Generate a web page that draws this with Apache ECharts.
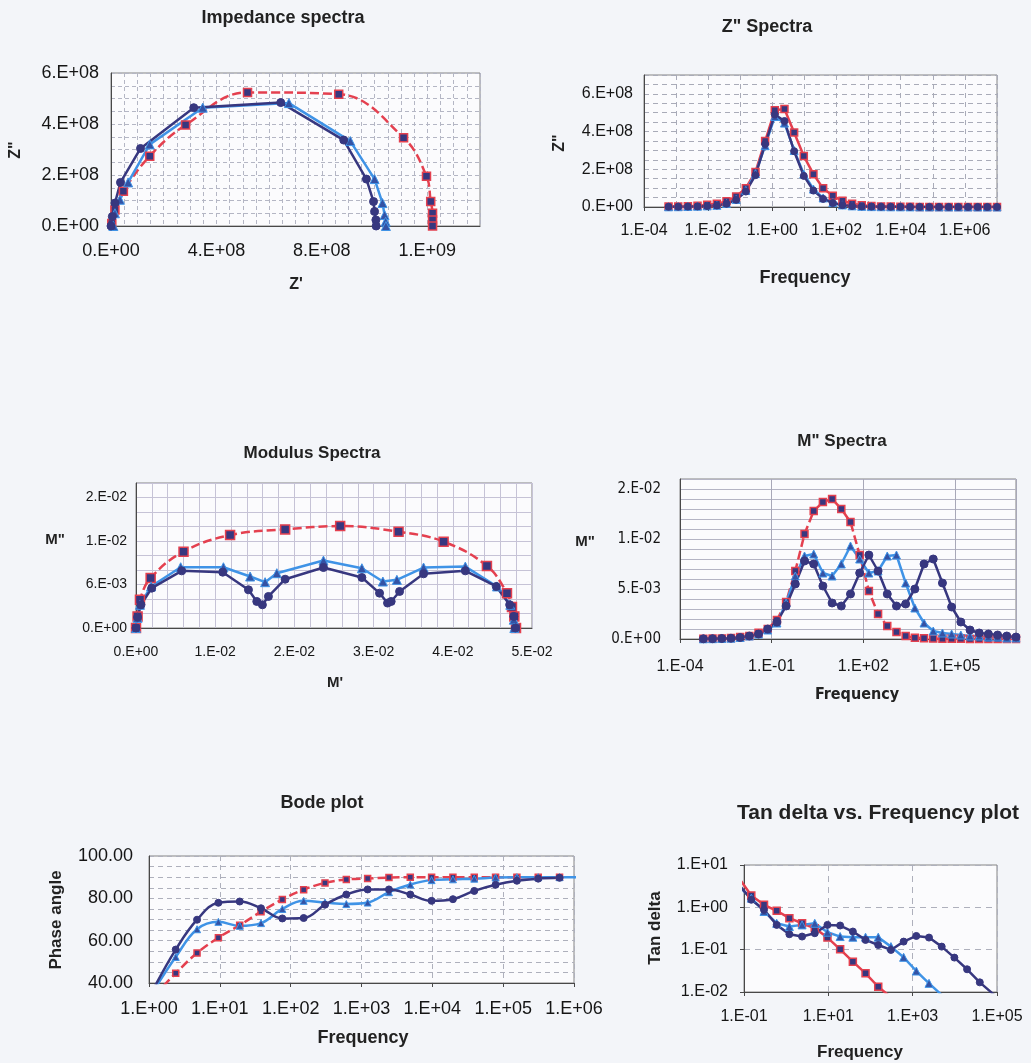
<!DOCTYPE html>
<html>
<head>
<meta charset="utf-8">
<title>Impedance, modulus, Bode and tan delta spectra</title>
<script src="https://cdn.jsdelivr.net/npm/echarts@6/dist/echarts.min.js"></script>
<style>
html, body { margin: 0; padding: 0; background: #f3f5f9; }
#chart { width: 1031px; height: 1063px; }
</style>
</head>
<body>
<div id="chart"></div>
<script>
// frequencies of the measurement (Hz), low to high
var freq = [5.82e-4, 1.164e-3, 2.328e-3, 4.657e-3, 9.313e-3, 1.863e-2, 3.725e-2, 7.451e-2,
    0.149, 0.298, 0.596, 1.192, 2.384, 4.768, 9.537, 19.07, 38.15, 76.29, 152.6, 305.2,
    610.4, 1221, 2441, 4883, 9766, 19531, 39063, 78125, 156250, 312500, 625000,
    1250000, 2500000, 5000000, 10000000];

// Nyquist plot (Z' , Z'')
var nyqRedX = [0.03e8, 0.15e8, 0.47e8, 1.47e8, 2.83e8, 5.18e8, 8.64e8, 11.1e8, 11.97e8, 12.13e8, 12.2e8, 12.2e8, 12.2e8];
var nyqRedY = [0.1e8, 0.63e8, 1.36e8, 2.74e8, 3.96e8, 5.24e8, 5.17e8, 3.46e8, 1.95e8, 0.96e8, 0.5e8, 0.24e8, 0];
var nyqNavyX = [0, 0.05e8, 0.15e8, 0.36e8, 1.12e8, 3.14e8, 6.44e8, 8.83e8, 9.69e8, 9.96e8, 10.0e8, 10.05e8, 10.06e8];
var nyqNavyY = [0, 0.37e8, 0.9e8, 1.71e8, 3.04e8, 4.64e8, 4.84e8, 3.37e8, 1.84e8, 0.96e8, 0.57e8, 0.24e8, 0];
var nyqBlueX = [0.09e8, 0.15e8, 0.34e8, 0.65e8, 1.47e8, 3.48e8, 6.75e8, 9.08e8, 10.0e8, 10.3e8, 10.38e8, 10.42e8, 10.43e8];
var nyqBlueY = [0, 0.5e8, 1.03e8, 1.71e8, 3.2e8, 4.64e8, 4.82e8, 3.33e8, 1.84e8, 0.9e8, 0.43e8, 0.17e8, 0];

// Z'' vs frequency
var zppRed = [2e6, 3e6, 4e6, 7e6, 1.2e7, 1.7e7, 3e7, 5.6e7, 1.0e8, 1.86e8, 3.5e8, 5.13e8, 5.2e8, 3.95e8, 2.7e8,
    1.74e8, 9.9e7, 5.9e7, 3.3e7, 1.7e7, 9e6, 5e6, 3e6, 2e6, 1.2e6, 8e5, 5e5, 3e5, 2e5, 1e5, 7e4, 4e4, 2e4, 1e4, 5e3];
var zppNavy = [1e6, 1.5e6, 2e6, 3e6, 5e6, 8e6, 1.7e7, 3.8e7, 8.2e7, 1.69e8, 3.34e8, 4.9e8, 4.56e8, 2.96e8, 1.65e8,
    8.7e7, 4.3e7, 2.1e7, 1.0e7, 5e6, 3e6, 2e6, 1.5e6, 1e6, 8e5, 6e5, 5e5, 4e5, 3e5, 2e5, 2e5, 1e5, 1e5, 1e5, 1e5];
var zppBlue = [1e6, 1.5e6, 2.5e6, 4e6, 6e6, 9e6, 1.9e7, 4e7, 8.8e7, 1.77e8, 3.25e8, 4.8e8, 4.45e8, 3.0e8, 1.75e8,
    9.5e7, 4.8e7, 2.3e7, 1.1e7, 6e6, 3.5e6, 2e6, 1.5e6, 1e6, 8e5, 6e5, 5e5, 4e5, 3e5, 2e5, 2e5, 1e5, 1e5, 1e5, 1e5];

// modulus plot (M' , M'')
var modRedX = [0, 0.0002, 0.0005, 0.00185, 0.006, 0.01188, 0.01883, 0.02578, 0.03315, 0.03884, 0.04431, 0.04684, 0.04747, 0.04777, 0.04798];
var modRedY = [0, 0.0016, 0.0039, 0.0069, 0.01053, 0.01282, 0.0136, 0.01406, 0.01328, 0.01191, 0.00856, 0.00481, 0.00289, 0.0016, 0];
var modNavyX = [0, 0.0002, 0.00063, 0.00198, 0.00577, 0.01095, 0.0142, 0.01525, 0.01596, 0.01672, 0.01883, 0.02367,
    0.02852, 0.03075, 0.03176, 0.03222, 0.03328, 0.03631, 0.04158, 0.04549, 0.04718, 0.0477, 0.0479];
var modNavyY = [0, 0.0015, 0.0032, 0.0055, 0.00788, 0.0077, 0.00527, 0.00366, 0.0032, 0.00435, 0.00673, 0.00834,
    0.00696, 0.00481, 0.00344, 0.00366, 0.00504, 0.00747, 0.00788, 0.00573, 0.00321, 0.0016, 0];
var modBlueX = [0, 0.0002, 0.0005, 0.0019, 0.00564, 0.01104, 0.01441, 0.0163, 0.01778, 0.02367, 0.02852, 0.03117,
    0.03294, 0.03631, 0.04158, 0.04558, 0.04726, 0.0477, 0.04777];
var modBlueY = [0, 0.0014, 0.0032, 0.00573, 0.00838, 0.00838, 0.0071, 0.00632, 0.00756, 0.0093, 0.00824, 0.00641,
    0.00664, 0.00834, 0.00847, 0.00573, 0.0032, 0.00115, 0];

// M'' vs frequency
var mppRed = [0.00002, 0.00004, 0.00006, 0.0001, 0.0002, 0.0003, 0.00063, 0.001, 0.0019, 0.0037, 0.0068, 0.0105,
    0.0128, 0.0137, 0.014, 0.013, 0.0117, 0.0084, 0.0048, 0.0025, 0.0013, 0.0007, 0.0003, 0.00013, 0.00007,
    0.00004, 0.00003, 0.00002, 0.00002, 0.00001, 0.00001, 0.00001, 0.00001, 0.00001, 0.00001];
var mppNavy = [0.00002, 0.00003, 0.00005, 0.00008, 0.00015, 0.0003, 0.0005, 0.001, 0.0017, 0.0033, 0.0055, 0.0078,
    0.0075, 0.0053, 0.0036, 0.0033, 0.0045, 0.0066, 0.0084, 0.0068, 0.0045, 0.0033, 0.0035, 0.005, 0.0075,
    0.008, 0.0056, 0.0032, 0.0017, 0.0009, 0.0006, 0.0005, 0.0004, 0.0003, 0.0002];
var mppBlue = [0.00002, 0.00003, 0.00005, 0.00008, 0.00015, 0.0003, 0.0005, 0.0009, 0.0016, 0.0036, 0.0063, 0.0083,
    0.0085, 0.0066, 0.0063, 0.0075, 0.0093, 0.008, 0.0066, 0.0068, 0.0083, 0.0084, 0.0056, 0.0031, 0.0016,
    0.0008, 0.0006, 0.0005, 0.0004, 0.0003, 0.0003, 0.0002, 0.0002, 0.0001, 0.0001];

// phase angle (Bode)
var bodeRed = [null, null, null, null, null, null, null, null, null, null, null,
    34, 44.6, 54.2, 61.4, 67.3, 73.7, 79.5, 84.1, 87.3, 88.9, 89.4, 89.8, 90, 90, 90, 90, 90, 90, 90, 90,
    null, null, null, null];
var bodeNavy = [null, null, null, null, null, null, null, null, null, null, null,
    38, 55.8, 69.9, 77.9, 78.5, 75.3, 70.5, 70.7, 77, 81.8, 84.2, 84.2, 81.8, 78.8, 79.6, 83.5, 86.4, 88.3, 89.3, 89.7,
    null, null, null, null];
var bodeBlue = [null, null, null, null, null, null, null, null, null, null, null,
    37, 52.3, 65.4, 68.9, 67, 68.3, 75, 78.8, 78, 77.3, 78, 82.9, 86.5, 88.6, 89, 89.3, 89.8, 90, 90, 90, 90,
    null, null, null];

// tan delta
var tanRed = [null, null, null, null, null, null, null,
    5.0, 1.91, 1.15, 0.83, 0.555, 0.42, 0.32, 0.193, 0.102, 0.052, 0.0276, 0.0133, 0.0075, 0.004,
    null, null, null, null, null, null, null, null, null, null, null, null, null, null];
var tanNavy = [null, null, null, null, null, null, null,
    3.5, 1.51, 0.875, 0.385, 0.232, 0.204, 0.245, 0.385, 0.372, 0.268, 0.17, 0.129, 0.0986, 0.155, 0.211,
    0.193, 0.118, 0.065, 0.0344, 0.0169, 0.0093, 0.005,
    null, null, null, null, null, null];
var tanBlue = [null, null, null, null, null, null, null,
    3.2, 1.65, 0.8, 0.42, 0.352, 0.385, 0.42, 0.258, 0.204, 0.197, 0.197, 0.197, 0.118, 0.066, 0.0313,
    0.016, 0.0085, 0.0045,
    null, null, null, null, null, null, null, null, null, null];

var RED = '#e4404f', NAVY = '#37377f', BLUE = '#3f93e6', TRI = '#3452a4';
var FONT = "'Liberation Sans', Arial, sans-serif";
var NARROW = "'Liberation Sans Narrow', 'DejaVu Sans Condensed', 'Liberation Sans', sans-serif";

function isMult(v, step) {
    var r = v / step;
    return Math.abs(r - Math.round(r)) < 1e-6;
}
function pad2(n) { return n < 10 ? '0' + n : '' + n; }
// Excel "0.E+00" number format
function sci(v) {
    if (Math.abs(v) < 1e-15) return '0.E+00';
    var e = Math.floor(Math.log10(Math.abs(v)) + 1e-9);
    var m = Math.round(v / Math.pow(10, e) + 1e-9);
    if (m >= 10) { m = 1; e++; }
    return m + '.E' + (e < 0 ? '-' : '+') + pad2(Math.abs(e));
}
function decade(v) {
    var e = Math.round(v);
    return '1.E' + (e < 0 ? '-' : '+') + pad2(Math.abs(e));
}

function xy(xs, ys) {
    return xs.map(function (x, i) { return [x, ys[i]]; });
}
// log axes are drawn as value axes in decades
function logxy(fs, vs, logY) {
    var out = [];
    fs.forEach(function (f, i) {
        if (vs[i] == null) return;
        out.push([Math.log10(f), logY ? Math.log10(vs[i]) : vs[i]]);
    });
    return out;
}

function grid(l, t, w, h) {
    return {left: l, top: t, width: w, height: h, show: true, borderColor: '#858585',
        borderWidth: 1, backgroundColor: '#fbfbfd', containLabel: false};
}

function axis(gi, min, max, interval, fmt, o) {
    return {
        type: 'value', gridIndex: gi, min: min, max: max, interval: interval,
        axisLine: {show: true, onZero: false, lineStyle: {color: '#484848', width: 1}},
        axisTick: {show: !!o.tick, length: 4, lineStyle: {color: '#484848'}},
        axisLabel: {formatter: fmt, color: '#151515', fontFamily: o.font || FONT,
            fontSize: o.size, margin: o.margin},
        splitLine: {show: true, lineStyle: {color: o.grid, type: o.type || 'solid', width: 1}}
    };
}

function line(kind, gi, data, o) {
    o = o || {};
    var s = {type: 'line', xAxisIndex: gi, yAxisIndex: gi, data: data, smooth: o.smooth || false,
        symbolSize: o.size || 7, clip: true, animation: false, silent: true};
    if (kind === 'red') {
        s.symbol = 'rect';
        s.lineStyle = {color: RED, width: 2.5, type: o.dash ? [9, 4] : 'solid'};
        s.itemStyle = {color: NAVY, borderColor: RED, borderWidth: 1.5};
    } else if (kind === 'navy') {
        s.symbol = 'circle';
        s.lineStyle = {color: NAVY, width: 2.5};
        s.itemStyle = {color: NAVY, borderColor: NAVY, borderWidth: 1};
    } else {
        s.symbol = 'triangle';
        s.symbolSize = (o.size || 7) + 1;
        s.lineStyle = {color: BLUE, width: 2.5};
        s.itemStyle = {color: TRI, borderColor: BLUE, borderWidth: 1};
    }
    return s;
}

function txt(s, x, y, size, o) {
    o = o || {};
    return {type: 'text', x: x, y: y, rotation: o.rot ? Math.PI / 2 : 0, silent: true,
        style: {text: s, fill: '#222222', font: (o.normal ? '' : 'bold ') + size + 'px ' + (o.font || FONT),
            align: 'center', verticalAlign: 'middle', textAlign: 'center', textVerticalAlign: 'middle'}};
}

var dashG = '#b4b6c4', solidG = '#c6c3d6';

var option = {
    backgroundColor: '#f3f5f9',
    animation: false,
    grid: [
        grid(111, 73, 369, 153),
        grid(644, 75, 353, 132),
        grid(136, 483, 396, 145),
        grid(680, 479, 336, 160),
        grid(149, 856, 425, 127),
        grid(744, 865, 253, 127)
    ],
    xAxis: [
        axis(0, 0, 1.4e9, 5e7, function (v) { return isMult(v, 4e8) ? sci(v) : ''; },
            {size: 18, margin: 16, grid: dashG, type: [4, 3]}),
        axis(1, -4, 7, 1, function (v) { return isMult(v + 4, 2) ? decade(v) : ''; },
            {size: 16, margin: 16, grid: '#a9abb8', type: [5, 4], tick: true}),
        axis(2, 0, 0.05, 0.002, function (v) { return isMult(v, 0.01) ? sci(v) : ''; },
            {size: 14, margin: 17, grid: solidG}),
        axis(3, -4, 7, 3, function (v) { return isMult(v + 4, 3) ? decade(v) : ''; },
            {size: 16, margin: 20, grid: '#a8a8b8', tick: true}),
        axis(4, 0, 6, 1, decade,
            {size: 18, margin: 17, grid: '#aeb0bc', type: [5, 4], tick: true}),
        axis(5, -1, 5, 2, decade,
            {size: 16, margin: 17, grid: '#aeb0bc', type: [6, 5], tick: true})
    ],
    yAxis: [
        axis(0, 0, 6e8, 5e7, function (v) { return isMult(v, 2e8) ? sci(v) : ''; },
            {size: 18, margin: 12, grid: dashG, type: [4, 3]}),
        axis(1, 0, 7e8, 5e7, function (v) { return isMult(v, 2e8) ? sci(v) : ''; },
            {size: 16, margin: 11, grid: '#a9abb8', type: [5, 4]}),
        axis(2, 0, 0.02, 0.002, function (v) { return isMult(v, 0.006) ? sci(v) : ''; },
            {size: 14, margin: 9, grid: solidG}),
        axis(3, 0, 0.016, 0.001, function (v) { return isMult(v, 0.005) ? sci(v) : ''; },
            {size: 15, margin: 19, grid: '#b4b4c4', font: NARROW}),
        axis(4, 40, 100, 5, function (v) { return isMult(v, 20) ? v.toFixed(2) : ''; },
            {size: 18, margin: 16, grid: '#aeb0bc', type: [5, 4]}),
        axis(5, -2, 1, 1, decade,
            {size: 16, margin: 16, grid: '#aeb0bc', type: [6, 5], tick: true})
    ],
    series: [
        line('red', 0, xy(nyqRedX, nyqRedY), {dash: true, smooth: 0.4, size: 8}),
        line('blue', 0, xy(nyqBlueX, nyqBlueY), {size: 8}),
        line('navy', 0, xy(nyqNavyX, nyqNavyY), {size: 8}),

        line('red', 1, logxy(freq, zppRed), {size: 7}),
        line('blue', 1, logxy(freq, zppBlue), {size: 7}),
        line('navy', 1, logxy(freq, zppNavy), {size: 7}),

        line('red', 2, xy(modRedX, modRedY), {dash: true, smooth: 0.4, size: 9}),
        line('blue', 2, xy(modBlueX, modBlueY), {size: 8}),
        line('navy', 2, xy(modNavyX, modNavyY), {size: 8}),

        line('red', 3, logxy(freq, mppRed), {dash: true, size: 7}),
        line('blue', 3, logxy(freq, mppBlue), {size: 7}),
        line('navy', 3, logxy(freq, mppNavy), {size: 8}),

        line('red', 4, logxy(freq, bodeRed), {dash: true, smooth: 0.4, size: 6}),
        line('blue', 4, logxy(freq, bodeBlue), {smooth: 0.4, size: 6}),
        line('navy', 4, logxy(freq, bodeNavy), {smooth: 0.4, size: 7}),

        line('red', 5, logxy(freq, tanRed, true), {size: 7}),
        line('blue', 5, logxy(freq, tanBlue, true), {size: 7}),
        line('navy', 5, logxy(freq, tanNavy, true), {size: 7})
    ],
    graphic: [
        txt('Impedance spectra', 283, 18, 18),
        txt("Z'", 296, 285, 16),
        txt('Z"', 16, 150, 16, {rot: true}),

        txt('Z" Spectra', 767, 27, 18),
        txt('Frequency', 805, 278, 18),
        txt('Z"', 560, 143, 16, {rot: true}),

        txt('Modulus Spectra', 312, 453, 17),
        txt("M'", 335, 683, 15),
        txt('M"', 55, 540, 15),

        txt('M" Spectra', 842, 441, 17),
        txt('Frequency', 857, 695, 16, {font: NARROW}),
        txt('M"', 585, 542, 15),

        txt('Bode plot', 322, 803, 18),
        txt('Frequency', 363, 1038, 18),
        txt('Phase angle', 56, 920, 17, {rot: true}),

        txt('Tan delta vs. Frequency plot', 878, 813, 21),
        txt('Frequency', 860, 1052, 17),
        txt('Tan delta', 655, 928, 17, {rot: true})
    ]
};

var chart = echarts.init(document.getElementById('chart'));
chart.setOption(option);
</script>
</body>
</html>
